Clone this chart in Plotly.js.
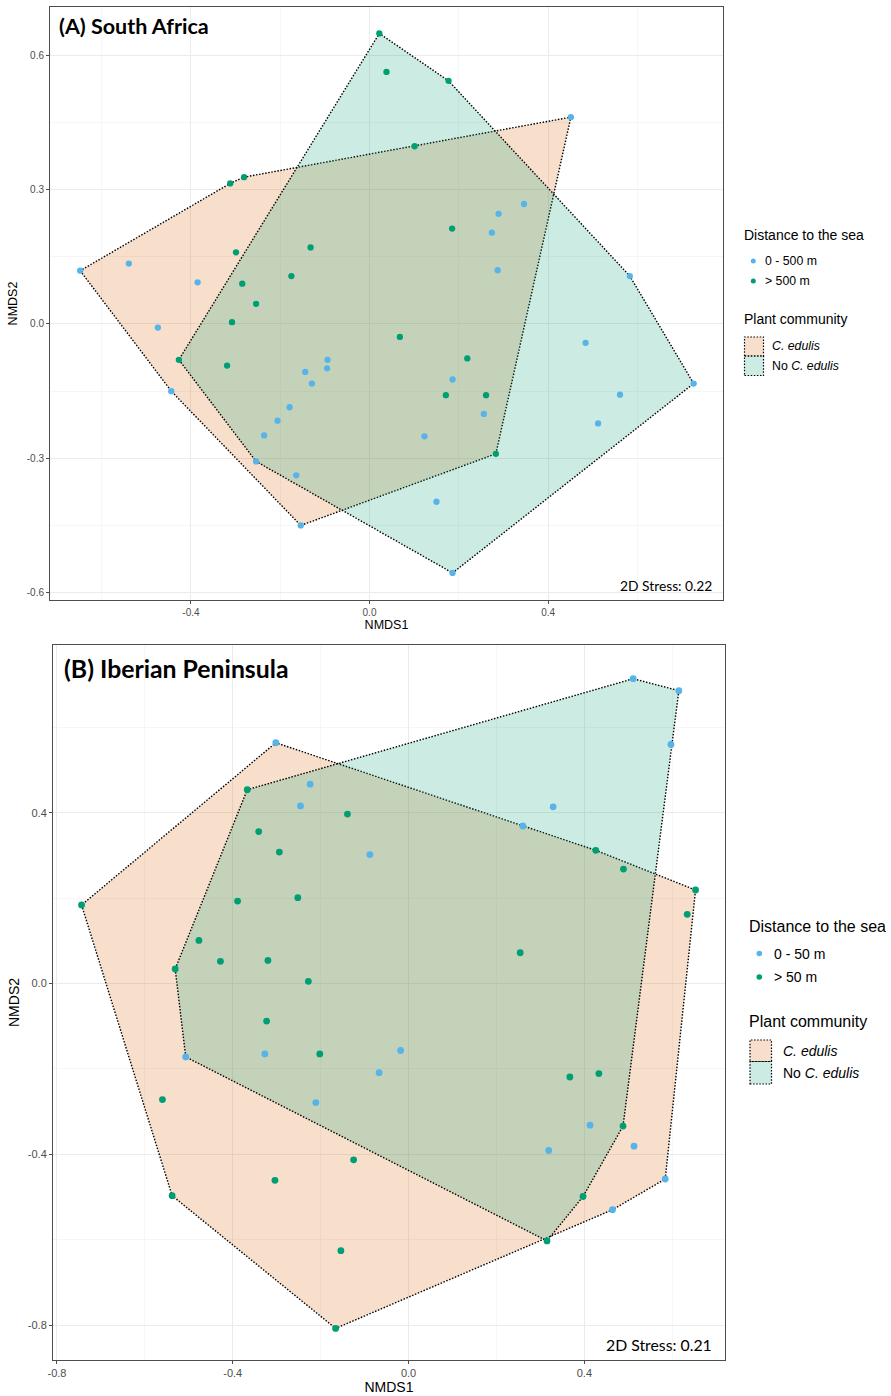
<!DOCTYPE html>
<html>
<head>
<meta charset="utf-8">
<script src="https://cdn.plot.ly/plotly-3.0.1.min.js"></script>
<style>html,body{margin:0;padding:0;background:#fff;}#chart{width:891px;height:1396px;}</style>
</head>
<body>
<div id="chart"></div>
<script>
// ---------------- DATA ----------------
// Panel A: South Africa (NMDS site scores)
const saX = [0.022,0.038,0.177,0.101,-0.281,-0.312,0.185,-0.132,-0.299,-0.175,-0.285,-0.254,-0.308,0.068,-0.427,-0.319,0.219,0.171,0.261,0.283,
             0.451,0.346,0.289,0.274,0.287,0.583,-0.648,-0.539,-0.385,-0.474,0.484,-0.444,-0.094,-0.095,-0.144,-0.129,0.186,0.726,0.561,0.512,-0.179,-0.206,-0.236,0.256,0.123,-0.254,-0.164,0.150,-0.154,0.186];
const saY = [0.649,0.563,0.543,0.397,0.328,0.314,0.213,0.171,0.160,0.107,0.090,0.045,0.004,-0.029,-0.080,-0.093,-0.077,-0.159,-0.159,-0.290,
             0.462,0.268,0.246,0.204,0.120,0.107,0.119,0.135,0.093,-0.008,-0.042,-0.150,-0.080,-0.099,-0.107,-0.133,-0.124,-0.133,-0.158,-0.222,-0.186,-0.216,-0.249,-0.201,-0.251,-0.307,-0.338,-0.397,-0.450,-0.556];
const saDist = ["> 500 m","> 500 m","> 500 m","> 500 m","> 500 m","> 500 m","> 500 m","> 500 m","> 500 m","> 500 m","> 500 m","> 500 m","> 500 m","> 500 m","> 500 m","> 500 m","> 500 m","> 500 m","> 500 m","> 500 m",
             "0 - 500 m","0 - 500 m","0 - 500 m","0 - 500 m","0 - 500 m","0 - 500 m","0 - 500 m","0 - 500 m","0 - 500 m","0 - 500 m","0 - 500 m","0 - 500 m","0 - 500 m","0 - 500 m","0 - 500 m","0 - 500 m","0 - 500 m","0 - 500 m","0 - 500 m","0 - 500 m","0 - 500 m","0 - 500 m","0 - 500 m","0 - 500 m","0 - 500 m","0 - 500 m","0 - 500 m","0 - 500 m","0 - 500 m","0 - 500 m"];
const saComm = ["N","N","N","C","C","C","C","N","C","C","N","C","N","N","N","C","N","N","C","C",
             "C","C","N","C","N","N","C","C","C","C","N","C","C","N","C","N","N","N","N","N","C","N","C","N","C","N","C","N","C","N"];

// Panel B: Iberian Peninsula
const ipX = [-0.744,-0.367,-0.139,-0.341,-0.294,-0.389,-0.252,-0.477,-0.428,-0.320,-0.531,-0.228,-0.323,-0.202,-0.560,-0.125,-0.304,-0.538,-0.154,-0.166,0.426,0.489,0.653,0.634,0.254,0.367,0.433,0.488,0.397,0.315,
             -0.302,-0.224,-0.246,-0.088,0.511,0.615,0.597,0.329,0.260,-0.507,-0.327,-0.018,-0.067,-0.211,0.413,0.319,0.513,0.584,0.464];
const ipY = [0.184,0.454,0.397,0.356,0.308,0.193,0.201,0.101,0.052,0.054,0.034,0.005,-0.088,-0.165,-0.272,-0.413,-0.461,-0.497,-0.626,-0.808,0.312,0.268,0.219,0.162,0.072,-0.219,-0.211,-0.334,-0.499,-0.603,
             0.564,0.467,0.416,0.302,0.714,0.686,0.560,0.414,0.369,-0.172,-0.165,-0.157,-0.209,-0.279,-0.332,-0.391,-0.381,-0.458,-0.530];
const ipDist = ["> 50 m","> 50 m","> 50 m","> 50 m","> 50 m","> 50 m","> 50 m","> 50 m","> 50 m","> 50 m","> 50 m","> 50 m","> 50 m","> 50 m","> 50 m","> 50 m","> 50 m","> 50 m","> 50 m","> 50 m","> 50 m","> 50 m","> 50 m","> 50 m","> 50 m","> 50 m","> 50 m","> 50 m","> 50 m","> 50 m",
             "0 - 50 m","0 - 50 m","0 - 50 m","0 - 50 m","0 - 50 m","0 - 50 m","0 - 50 m","0 - 50 m","0 - 50 m","0 - 50 m","0 - 50 m","0 - 50 m","0 - 50 m","0 - 50 m","0 - 50 m","0 - 50 m","0 - 50 m","0 - 50 m","0 - 50 m"];
const ipComm = ["C","N","C","N","C","N","C","N","C","N","N","C","N","C","C","C","C","C","C","C","C","N","C","C","N","C","N","N","N","N",
             "C","N","C","N","N","N","N","N","C","N","C","N","C","N","C","N","C","C","C"];

// Categories & labels
const commKeys = ["C","N"];
const commLabels = ["<i>C. edulis</i>","No <i>C. edulis</i>"];
const saDistCats = ["0 - 500 m","> 500 m"];
const ipDistCats = ["0 - 50 m","> 50 m"];
const legendTitles = ["Distance to the sea","Plant community"];
const panelTitles = ["<b>(A) South Africa</b>","<b>(B) Iberian Peninsula</b>"];
const stressLabels = ["2D Stress: 0.22","2D Stress: 0.21"];
const saXTicks = [-0.4,0,0.4], saXTickText = ["-0.4","0.0","0.4"];
const saYTicks = [-0.6,-0.3,0,0.3,0.6], saYTickText = ["-0.6","-0.3","0.0","0.3","0.6"];
const ipXTicks = [-0.8,-0.4,0,0.4], ipXTickText = ["-0.8","-0.4","0.0","0.4"];
const ipYTicks = [-0.8,-0.4,0,0.4], ipYTickText = ["-0.8","-0.4","0.0","0.4"];
const saXMinor = [-0.6,-0.2,0.2,0.6], saYMinor = [-0.45,-0.15,0.15,0.45];
const ipXMinor = [-0.6,-0.2,0.2,0.6], ipYMinor = [-0.6,-0.2,0.2,0.6];

// ---------------- STYLE ----------------
const W = 891, H = 1396;
const distColors = ["#56B4E9","#009E73"];
const commFill = ["rgba(213,94,0,0.2)","rgba(0,158,115,0.2)"];
const dotted = {color:"#000000", width:1.4, dash:"1.5px,1.6px"};
const sans = "Liberation Sans, Arial, sans-serif";
const calib = "Lato, Carlito, Calibri, sans-serif";

function hull(xs, ys){
  const pts = xs.map((x,i)=>[x,ys[i]]).sort((a,b)=>a[0]-b[0]||a[1]-b[1]);
  const cr=(o,a,b)=>(a[0]-o[0])*(b[1]-o[1])-(a[1]-o[1])*(b[0]-o[0]);
  const lo=[], up=[];
  for(const p of pts){while(lo.length>=2&&cr(lo[lo.length-2],lo[lo.length-1],p)<=0)lo.pop();lo.push(p);}
  for(let i=pts.length-1;i>=0;i--){const p=pts[i];while(up.length>=2&&cr(up[up.length-2],up[up.length-1],p)<=0)up.pop();up.push(p);}
  lo.pop(); up.pop();
  const h = lo.concat(up); h.push(h[0]);
  return {x:h.map(p=>p[0]), y:h.map(p=>p[1])};
}

function panelTraces(X,Y,D,C,distCats,xa,ya,msize){
  const tr = [];
  commKeys.forEach((c,k)=>{
    const ix = X.filter((_,i)=>C[i]===c), iy = Y.filter((_,i)=>C[i]===c);
    const h = hull(ix,iy);
    tr.push({type:"scatter",mode:"lines",x:h.x,y:h.y,xaxis:xa,yaxis:ya,fill:"toself",
      fillcolor:commFill[k],line:dotted,hoverinfo:"skip",showlegend:false,name:commLabels[k]});
  });
  distCats.forEach((d,k)=>{
    tr.push({type:"scatter",mode:"markers",x:X.filter((_,i)=>D[i]===d),y:Y.filter((_,i)=>D[i]===d),
      xaxis:xa,yaxis:ya,marker:{color:distColors[k],size:msize,line:{width:0}},showlegend:false,name:d});
  });
  return tr;
}

const traces = panelTraces(saX,saY,saDist,saComm,saDistCats,"x","y",6.3)
  .concat(panelTraces(ipX,ipY,ipDist,ipComm,ipDistCats,"x2","y2",6.8));

function ax(o){
  return Object.assign({
    showline:true, mirror:true, linecolor:"#4d4d4d", linewidth:1,
    ticks:"outside", ticklen:3, tickwidth:1, tickcolor:"#4d4d4d",
    showgrid:true, gridcolor:"#EBEBEB", gridwidth:1, zeroline:false,
    tickmode:"array", fixedrange:true, automargin:false
  }, o);
}
const px = v => v/W, py = v => 1 - v/H;

const layout = {
  width:W, height:H, margin:{l:0,r:0,t:0,b:0}, showlegend:false,
  paper_bgcolor:"#ffffff", plot_bgcolor:"#ffffff",
  xaxis: ax({domain:[px(50),px(723)], range:[-0.7156,0.7917], anchor:"y",
    tickvals:saXTicks, ticktext:saXTickText, tickfont:{family:sans,size:10,color:"#4D4D4D"},
    minor:{tickmode:"array",tickvals:saXMinor,showgrid:true,gridcolor:"#F2F2F2",gridwidth:0.7,ticks:""},
    title:{text:"NMDS1",font:{family:sans,size:12.5,color:"#000"},standoff:3}}),
  yaxis: ax({domain:[py(600),py(7)], range:[-0.6165,0.708], anchor:"x",
    tickvals:saYTicks, ticktext:saYTickText, tickfont:{family:sans,size:10,color:"#4D4D4D"},
    minor:{tickmode:"array",tickvals:saYMinor,showgrid:true,gridcolor:"#F2F2F2",gridwidth:0.7,ticks:""},
    title:{text:"NMDS2",font:{family:sans,size:12.5,color:"#000"},standoff:6}}),
  xaxis2: ax({domain:[px(53),px(725)], range:[-0.809,0.720], anchor:"y2",
    tickvals:ipXTicks, ticktext:ipXTickText, tickfont:{family:sans,size:11,color:"#4D4D4D"},
    minor:{tickmode:"array",tickvals:ipXMinor,showgrid:true,gridcolor:"#F2F2F2",gridwidth:0.7,ticks:""},
    title:{text:"NMDS1",font:{family:sans,size:14,color:"#000"},standoff:3}}),
  yaxis2: ax({domain:[py(1360),py(645)], range:[-0.882,0.793], anchor:"x2",
    tickvals:ipYTicks, ticktext:ipYTickText, tickfont:{family:sans,size:11,color:"#4D4D4D"},
    minor:{tickmode:"array",tickvals:ipYMinor,showgrid:true,gridcolor:"#F2F2F2",gridwidth:0.7,ticks:""},
    title:{text:"NMDS2",font:{family:sans,size:14,color:"#000"},standoff:4}}),
  annotations:[], shapes:[]
};

function ann(text,x,y,size,opts){
  layout.annotations.push(Object.assign({text:text,xref:"paper",yref:"paper",x:px(x),y:py(y),
    xanchor:"left",yanchor:"middle",showarrow:false,borderpad:0,
    font:{family:sans,size:size,color:"#000"}},opts||{}));
}
// Panel titles and stress
ann(panelTitles[0],58,26.5,21.5,{font:{family:calib,size:21.5,color:"#000"}});
ann(panelTitles[1],63,668.5,24.8,{font:{family:calib,size:24.8,color:"#000"}});
ann(stressLabels[0],713,586,13.8,{xanchor:"right",font:{family:calib,size:13.8,color:"#000"}});
ann(stressLabels[1],713,1344,15.8,{xanchor:"right",font:{family:calib,size:15.8,color:"#000"}});

// Legends
function legend(s, distCats){
  ann(legendTitles[0], s.tx, s.t1, s.tf);
  distCats.forEach((d,k)=>{
    layout.shapes.push({type:"circle",xref:"paper",yref:"paper",
      x0:px(s.dx-s.r),x1:px(s.dx+s.r),y0:py(s.rows[k]+s.r),y1:py(s.rows[k]-s.r),
      fillcolor:distColors[k],line:{width:0}});
    ann(d, s.ix, s.rows[k], s.f);
  });
  ann(legendTitles[1], s.tx, s.t2, s.tf);
  commLabels.forEach((c,k)=>{
    layout.shapes.push({type:"rect",xref:"paper",yref:"paper",
      x0:px(s.bx0),x1:px(s.bx1),y0:py(s.boxes[k][1]),y1:py(s.boxes[k][0]),
      fillcolor:commFill[k],line:{color:"#000",width:1.2,dash:"1.5px,1.6px"}});
    ann(c, s.cx, (s.boxes[k][0]+s.boxes[k][1])/2, s.f);
  });
}
legend({tx:742.5,t1:235,tf:14,dx:753.3,r:2.5,rows:[261,281],ix:763.5,f:12.3,t2:319.5,
        bx0:744.5,bx1:763.5,boxes:[[337,356],[356,375.5]],cx:771}, saDistCats);
legend({tx:747.5,t1:926.5,tf:16,dx:759.3,r:2.8,rows:[953.5,977],ix:773,f:14,t2:1021.5,
        bx0:750,bx1:771.5,boxes:[[1040,1061.5],[1061.5,1084]],cx:782}, ipDistCats);

Plotly.newPlot("chart", traces, layout, {staticPlot:true, displayModeBar:false});
</script>
</body>
</html>
